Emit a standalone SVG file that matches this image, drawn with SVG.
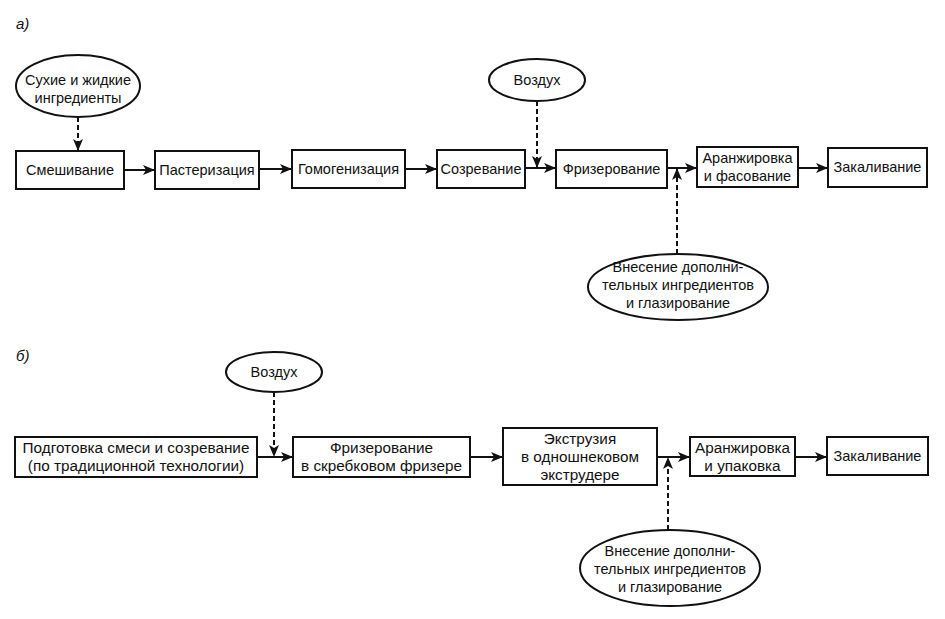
<svg xmlns="http://www.w3.org/2000/svg" width="945" height="619" viewBox="0 0 945 619">
<defs>
<marker id="ah" viewBox="0 0 12 10" refX="11" refY="5" markerWidth="12" markerHeight="10" markerUnits="userSpaceOnUse" orient="auto">
<path d="M0,0 L12,5 L0,10 L3,5 Z" fill="#111"/>
</marker>
</defs>
<style>
.box{fill:#fff;stroke:#111;stroke-width:2}
.ell{fill:#fff;stroke:#111;stroke-width:2}
.t{font-family:"Liberation Sans",Arial,sans-serif;font-size:14.5px;fill:#111;text-anchor:middle}
.w{font-size:15.3px}
.lbl{font-family:"Liberation Sans",Arial,sans-serif;font-size:15px;font-style:italic;fill:#111}
.c{stroke:#111;stroke-width:2;fill:none}
.d{stroke:#111;stroke-width:2;fill:none;stroke-dasharray:5,3}
</style>
<rect width="945" height="619" fill="#fff"/>
<text class="lbl" x="16" y="29">а)</text>
<text class="lbl" x="16" y="361">б)</text>

<g id="connectors">
<line class="d" x1="78" y1="117" x2="78" y2="150" marker-end="url(#ah)"/>
<line class="c" x1="124" y1="170" x2="154" y2="170" marker-end="url(#ah)"/>
<line class="c" x1="259" y1="169" x2="291" y2="169" marker-end="url(#ah)"/>
<line class="c" x1="405" y1="169" x2="436" y2="169" marker-end="url(#ah)"/>
<line class="c" x1="525" y1="168" x2="555" y2="168" marker-end="url(#ah)"/>
<line class="d" x1="537" y1="101" x2="537" y2="167" marker-end="url(#ah)"/>
<line class="c" x1="667" y1="168" x2="696" y2="168" marker-end="url(#ah)"/>
<line class="d" x1="677" y1="254" x2="677" y2="169" marker-end="url(#ah)"/>
<line class="c" x1="798" y1="168" x2="827" y2="168" marker-end="url(#ah)"/>

<line class="c" x1="257" y1="457" x2="292" y2="457" marker-end="url(#ah)"/>
<line class="d" x1="274" y1="392" x2="274" y2="456" marker-end="url(#ah)"/>
<line class="c" x1="470" y1="457" x2="502" y2="457" marker-end="url(#ah)"/>
<line class="c" x1="657" y1="457" x2="689" y2="457" marker-end="url(#ah)"/>
<line class="d" x1="668" y1="530" x2="668" y2="458" marker-end="url(#ah)"/>
<line class="c" x1="795" y1="457" x2="826" y2="457" marker-end="url(#ah)"/>
</g>

<g id="n-ingr"><ellipse class="ell" cx="78" cy="86" rx="62" ry="31"/><text class="t" x="78" y="85">Сухие и жидкие</text><text class="t" x="78" y="103">ингредиенты</text></g>
<g id="n-mix"><rect class="box" x="16" y="151" width="108" height="38"/><text class="t" x="70" y="175">Смешивание</text></g>
<g id="n-past"><rect class="box" x="155" y="151" width="104" height="38"/><text class="t" x="207" y="175">Пастеризация</text></g>
<g id="n-homo"><rect class="box" x="292" y="150" width="113" height="38"/><text class="t" x="348.5" y="174">Гомогенизация</text></g>
<g id="n-matur"><rect class="box" x="437" y="150" width="88" height="38"/><text class="t" x="481" y="174">Созревание</text></g>
<g id="n-air1"><ellipse class="ell" cx="537" cy="80" rx="48" ry="21"/><text class="t" x="537" y="85">Воздух</text></g>
<g id="n-friz1"><rect class="box" x="556" y="150" width="111" height="38"/><text class="t" x="611.5" y="174">Фризерование</text></g>
<g id="n-aran1"><rect class="box" x="697" y="147" width="101" height="40"/><text class="t" x="747.5" y="163">Аранжировка</text><text class="t" x="747.5" y="181">и фасование</text></g>
<g id="n-hard1"><rect class="box" x="828" y="148" width="99" height="39"/><text class="t" x="877.5" y="172">Закаливание</text></g>
<g id="n-add1"><ellipse class="ell" cx="678" cy="287" rx="90" ry="33"/><text class="t" x="678" y="272">Внесение дополни-</text><text class="t" x="678" y="290">тельных ингредиентов</text><text class="t" x="678" y="308">и глазирование</text></g>

<g id="n-air2"><ellipse class="ell" cx="274" cy="372" rx="48" ry="20"/><text class="t" x="274" y="377">Воздух</text></g>
<g id="n-prep"><rect class="box" x="15" y="437" width="242" height="40"/><text class="t w" x="136" y="453">Подготовка смеси и созревание</text><text class="t w" x="136" y="471">(по традиционной технологии)</text></g>
<g id="n-friz2"><rect class="box" x="293" y="437" width="177" height="40"/><text class="t w" x="381.5" y="453">Фризерование</text><text class="t w" x="381.5" y="471">в скребковом фризере</text></g>
<g id="n-extr"><rect class="box" x="503" y="428" width="154" height="57"/><text class="t w" x="580" y="444">Экструзия</text><text class="t w" x="580" y="462">в одношнековом</text><text class="t w" x="580" y="480">экструдере</text></g>
<g id="n-aran2"><rect class="box" x="690" y="437" width="105" height="39"/><text class="t w" x="742.5" y="453">Аранжировка</text><text class="t w" x="742.5" y="471">и упаковка</text></g>
<g id="n-hard2"><rect class="box" x="827" y="437" width="101" height="38"/><text class="t" x="877.5" y="461">Закаливание</text></g>
<g id="n-add2"><ellipse class="ell" cx="670" cy="568" rx="90" ry="38"/><text class="t" x="670" y="556">Внесение дополни-</text><text class="t" x="670" y="574">тельных ингредиентов</text><text class="t" x="670" y="592">и глазирование</text></g>
</svg>
